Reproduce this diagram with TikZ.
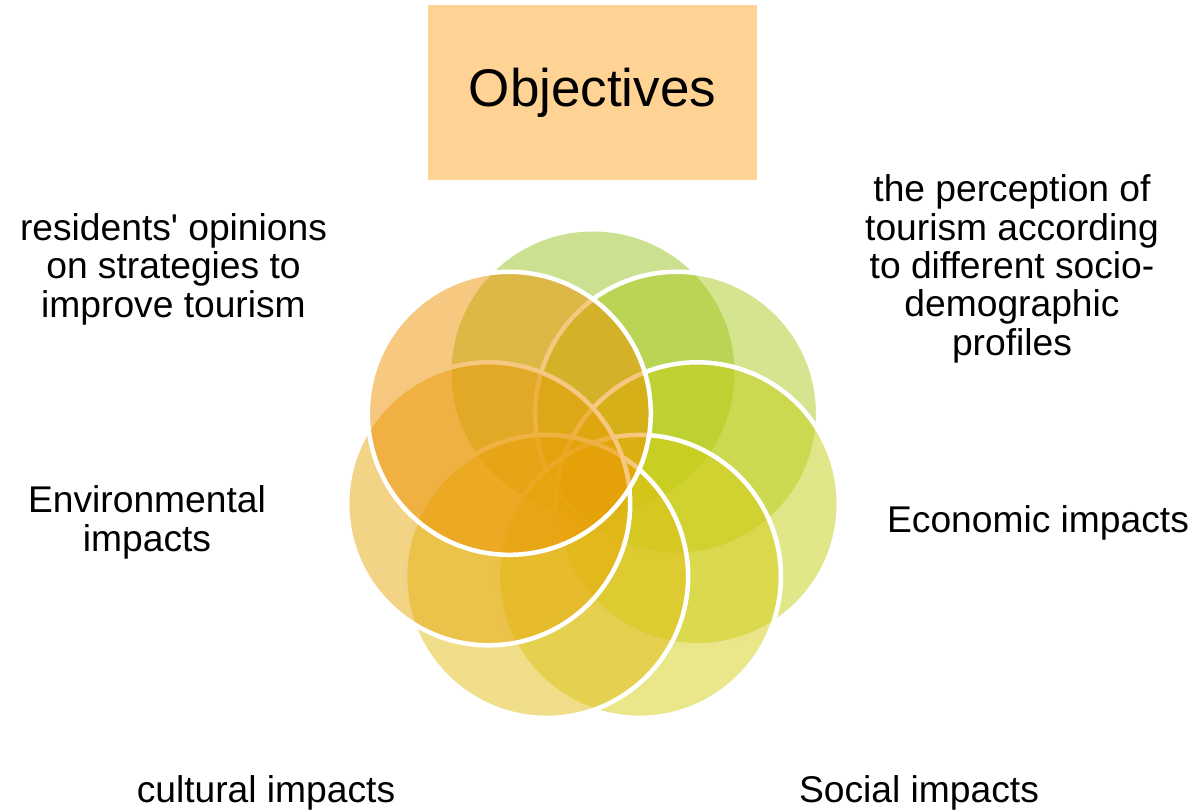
\documentclass[tikz,border=0pt]{standalone}
\usepackage{fontspec}
\setmainfont{Liberation Sans}
% petal colours, green to orange
\definecolor{pA}{RGB}{151,193,33}
\definecolor{pB}{RGB}{171,201,29}
\definecolor{pC}{RGB}{195,205,17}
\definecolor{pD}{RGB}{213,205,21}
\definecolor{pE}{RGB}{225,189,21}
\definecolor{pF}{RGB}{231,167,11}
\definecolor{pG}{RGB}{237,145,1}
\definecolor{titlefill}{RGB}{255,211,147}
\begin{document}
\begin{tikzpicture}[x=1bp,y=-1bp,
  petal/.style={circle, minimum size=283bp, inner sep=0pt, fill=#1, fill opacity=0.5, draw=white, line width=4.5bp},
  toppetal/.style={circle, minimum size=283bp, inner sep=0pt, fill=#1, fill opacity=0.5},
  txt/.style={font=\fontsize{37.2bp}{38.3bp}\selectfont, align=center, anchor=base, inner sep=0pt}]
\useasboundingbox (0,0) rectangle (1196,810);

% title box
\node[fill=titlefill, minimum width=329bp, minimum height=175bp, inner sep=0pt,
      font=\fontsize{53bp}{56bp}\selectfont] (title) at (592.5,92.5) {Objectives};

% seven overlapping petals on a ring, drawn clockwise from the top
\node[toppetal=pA] (p1) at (593,373) {};
\node[petal=pB] (p2) at (676.7,413.3) {};
\node[petal=pC] (p3) at (697.3,503.8) {};
\node[petal=pD] (p4) at (639.4,576.4) {};
\node[petal=pE] (p5) at (546.6,576.4) {};
\node[petal=pF] (p6) at (488.7,503.8) {};
\node[petal=pG] (p7) at (509.3,413.3) {};

% labels (multi-line nodes sit on the baseline of their last line)
\node[txt] (strat) at (173.5,317) {residents\textquotesingle{} opinions\\on strategies to\\improve tourism};
\node[txt] (perc) at (1012,355) {the perception of\\tourism according\\to different socio-\\demographic\\profiles};
\node[txt] (econ) at (1038,532) {Economic impacts};
\node[txt] (env) at (147,551) {Environmental\\impacts};
\node[txt] (cult) at (266,802) {cultural impacts};
\node[txt] (soc) at (919,802) {Social impacts};
\end{tikzpicture}
\end{document}
